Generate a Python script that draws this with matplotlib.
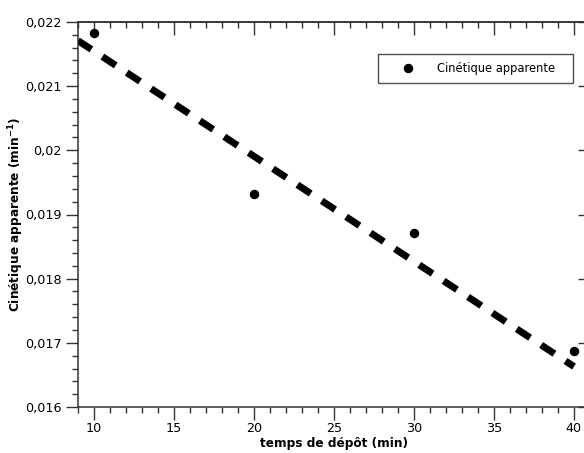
import matplotlib
matplotlib.use("Agg")
import matplotlib.pyplot as plt
from matplotlib.ticker import MultipleLocator, FuncFormatter

# Data
temps = [10, 20, 30, 40]
cinetique = [0.021824, 0.019321, 0.018718, 0.016865]

# Dashed trend line endpoints
fit_x = [9, 40]
fit_y = [0.02171, 0.01663]

plt.rcParams['font.family'] = ['DejaVu Sans']

fig = plt.figure(figsize=(5.84, 4.53), dpi=100)
ax = fig.add_axes([78 / 584, 1 - 407 / 453, 512 / 584, 385 / 453])

spine_col = '#333333'

ax.plot(fit_x, fit_y, color='black', linewidth=5, linestyle=(0, (2.3, 1.9)),
        solid_capstyle='butt', dash_capstyle='butt', zorder=2)
ax.plot(temps, cinetique, 'o', color='black', markersize=5.8,
        label='Cinétique apparente', zorder=3)

ax.set_xlim(9, 41)
ax.set_ylim(0.016, 0.022)

ax.xaxis.set_major_locator(MultipleLocator(5))
ax.xaxis.set_minor_locator(MultipleLocator(1))
ax.yaxis.set_major_locator(MultipleLocator(0.001))
ax.yaxis.set_minor_locator(MultipleLocator(0.0002))
ax.yaxis.set_major_formatter(FuncFormatter(lambda v, p: f"{v:g}".replace('.', ',')))

ax.tick_params(which='major', direction='out', length=9, width=1.0,
               color=spine_col, labelsize=9.2, pad=3)
ax.tick_params(which='minor', direction='out', length=4.5, width=1.0,
               color=spine_col)
ax.tick_params(axis='x', which='major', pad=2)

for s in ax.spines.values():
    s.set_color(spine_col)
    s.set_linewidth(1.1)

# Inward ticks on the top and right sides
top = ax.secondary_xaxis('top')
top.xaxis.set_major_locator(MultipleLocator(5))
top.xaxis.set_minor_locator(MultipleLocator(1))
top.tick_params(which='major', direction='in', length=9, width=1.0,
                color=spine_col, labeltop=False)
top.tick_params(which='minor', direction='in', length=4.5, width=1.0,
                color=spine_col)
top.spines['top'].set_color(spine_col)
top.spines['top'].set_linewidth(1.1)

right = ax.secondary_yaxis('right')
right.yaxis.set_major_locator(MultipleLocator(0.001))
right.yaxis.set_minor_locator(MultipleLocator(0.0002))
right.tick_params(which='major', direction='in', length=9, width=1.0,
                  color=spine_col, labelright=False)
right.tick_params(which='minor', direction='in', length=4.5, width=1.0,
                  color=spine_col)
right.spines['right'].set_color(spine_col)
right.spines['right'].set_linewidth(1.1)

ax.set_xlabel('temps de dépôt (min)', fontsize=8.7, fontweight='bold', labelpad=1)
ax.set_ylabel(r'Cinétique apparente (min$^{\mathbf{-1}}$)', fontsize=8.7,
              fontweight='bold', labelpad=-1)

leg = ax.legend(loc='upper left',
                bbox_to_anchor=(378 / 584, 1 - 84 / 453, 195 / 584, 30 / 453),
                bbox_transform=fig.transFigure, mode='expand', fontsize=8.3,
                frameon=True, fancybox=False, edgecolor='#222222',
                borderpad=0.7, handletextpad=0.6, handlelength=3.8,
                borderaxespad=0)
leg.get_frame().set_linewidth(1.0)

fig.savefig('out.png', dpi=100)
